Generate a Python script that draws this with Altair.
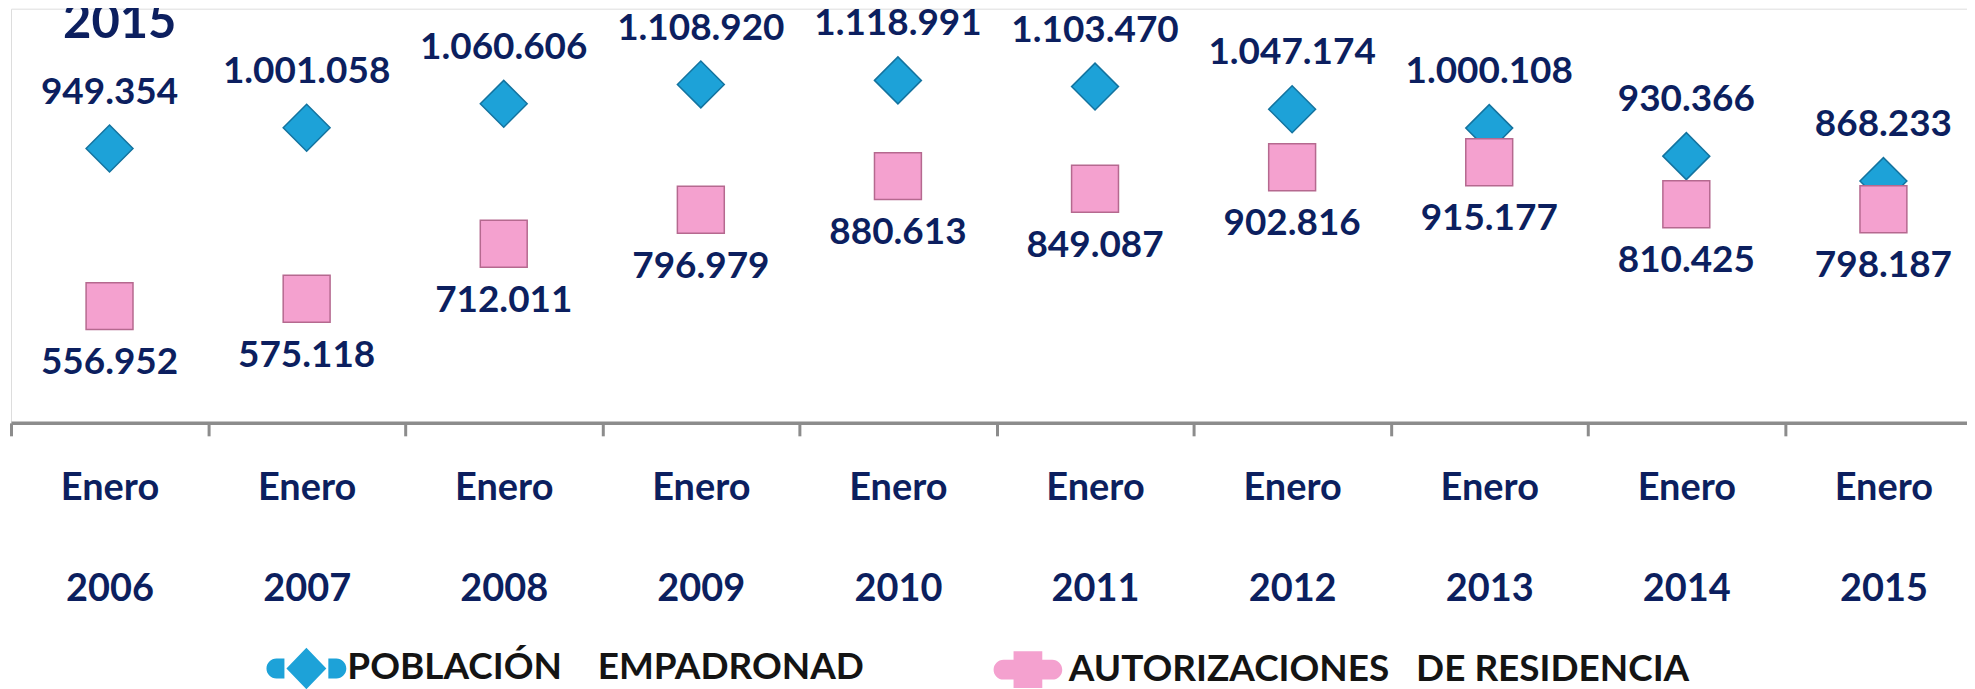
import altair as alt
import pandas as pd

# ---- data ----
years = ["2006", "2007", "2008", "2009", "2010", "2011", "2012", "2013", "2014", "2015"]
poblacion = [949354, 1001058, 1060606, 1108920, 1118991, 1103470, 1047174, 1000108, 930366, 868233]
autorizaciones = [556952, 575118, 712011, 796979, 880613, 849087, 902816, 915177, 810425, 798187]
series = ["POBLACIÓN\u00a0\u00a0\u00a0 EMPADRONAD", "AUTORIZACIONES\u00a0\u00a0 DE RESIDENCIA"]
axis_prefix = "Enero"
title_text = ["2015"]

NAVY = "#0c1f5f"
BLUE = "#1da2d8"
BLUE_DARK = "#13739f"
PINK = "#f4a1cf"
PINK_DARK = "#b5698f"

rows = []
for y, p, a in zip(years, poblacion, autorizaciones):
    rows.append({"anio": y, "serie": series[0], "valor": p, "pos": "arriba"})
    rows.append({"anio": y, "serie": series[1], "valor": a, "pos": "abajo"})
df = pd.DataFrame(rows)
df_title = pd.DataFrame({"t": title_text})

FONT = "Lato"

x_enc = alt.X(
    "anio:N",
    sort=years,
    scale=alt.Scale(type="band", range=[0, 1975], paddingInner=0, paddingOuter=0),
    axis=alt.Axis(
        title=None,
        orient="bottom",
        domainColor="#8c8c8c",
        domainWidth=3.5,
        tickColor="#8c8c8c",
        tickWidth=3,
        tickSize=13,
        tickBand="extent",
        labelAngle=0,
        labelAlign="center",
        labelBaseline="top",
        labelExpr=f"datum.label ? ['{axis_prefix}', datum.label] : ''",
        labelLineHeight=101,
        labelFont=FONT,
        labelFontSize=38,
        labelFontWeight="bold",
        labelColor=NAVY,
        labelPadding=34,
        labelOverlap=False,
        labelBound=False,
        grid=False,
    ),
)
y_enc = alt.Y(
    "valor:Q",
    scale=alt.Scale(domain=[266200, 1297500], nice=False, zero=False),
    axis=None,
)

base = alt.Chart(df).transform_calculate(
    etiqueta="replace(format(datum.valor, ','), regexp(',', 'g'), '.')",
    leyenda="datum.serie",
)

puntos = base.mark_point(filled=True, size=2209, opacity=1, strokeWidth=1.5).encode(
    x=x_enc,
    y=y_enc,
    color=alt.Color("serie:N", scale=alt.Scale(domain=series, range=[BLUE, PINK]), legend=None),
    stroke=alt.Stroke("serie:N", scale=alt.Scale(domain=series, range=[BLUE_DARK, PINK_DARK]), legend=None),
    shape=alt.Shape("serie:N", scale=alt.Scale(domain=series, range=["diamond", "square"]), legend=None),
)

text_style = dict(font=FONT, fontSize=37, fontWeight="bold", color=NAVY, baseline="middle", align="center")

etiq_arriba = base.transform_filter(alt.datum.pos == "arriba").mark_text(dy=-56, **text_style).encode(
    x=x_enc, y=y_enc, text="etiqueta:N"
)
etiq_abajo = base.transform_filter(alt.datum.pos == "abajo").mark_text(dy=57, **text_style).encode(
    x=x_enc, y=y_enc, text="etiqueta:N"
)

# heading fragment at the top-left (title annotation)
titulo = alt.Chart(df_title).mark_text(
    font=FONT, fontSize=49, fontWeight="bold", color=NAVY, baseline="alphabetic", align="center"
).encode(text="t:N", x=alt.value(109), y=alt.value(29))

path_blue = (
    "M-0.55,-0.25L-0.75,-0.25A0.25,0.25 0 0 0 -0.75,0.25L-0.55,0.25Z"
    "M-0.5,0L0,-0.52L0.5,0L0,0.52Z"
    "M0.55,-0.25L0.75,-0.25A0.25,0.25 0 0 1 0.75,0.25L0.55,0.25Z"
)
path_pink = (
    "M-0.36,-0.25L-0.61,-0.25A0.25,0.25 0 0 0 -0.61,0.25L-0.36,0.25Z"
    "M-0.36,-0.46L0.36,-0.46L0.36,0.46L-0.36,0.46Z"
    "M0.36,-0.25L0.61,-0.25A0.25,0.25 0 0 1 0.61,0.25L0.36,0.25Z"
)

# legend-only layer: tiny points hidden beneath the real markers
leyenda = base.mark_point(filled=True, size=4, opacity=1).encode(
    x=x_enc,
    y=y_enc,
    color=alt.Color(
        "leyenda:N",
        scale=alt.Scale(domain=series, range=[BLUE, PINK]),
        legend=alt.Legend(
            title=None,
            orient="none",
            legendX=256,
            legendY=621,
            direction="horizontal",
            padding=0,
            symbolSize=6400,
            symbolOpacity=1,
            symbolStrokeWidth=0,
            labelFont=FONT,
            labelFontSize=37,
            labelFontWeight="bold",
            labelColor="#141414",
            labelOffset=1,
            labelLimit=0,
            columnPadding=124,
        ),
    ),
    shape=alt.Shape(
        "leyenda:N",
        scale=alt.Scale(domain=series, range=[path_blue, path_pink]),
    ),
)

chart = (
    alt.layer(leyenda, puntos, etiq_arriba, etiq_abajo, titulo)
    .resolve_scale(color="independent", shape="independent", stroke="independent")
    .properties(
        width=1960,
        height=415,
        autosize=alt.AutoSizeParams(type="none"),
        padding={"left": 3, "top": 0, "right": 0, "bottom": 266},
    )
    .configure_view(stroke=None)
    .configure(background="white")
)

chart.save("out.html", embed_options={"renderer": "svg", "actions": False})
